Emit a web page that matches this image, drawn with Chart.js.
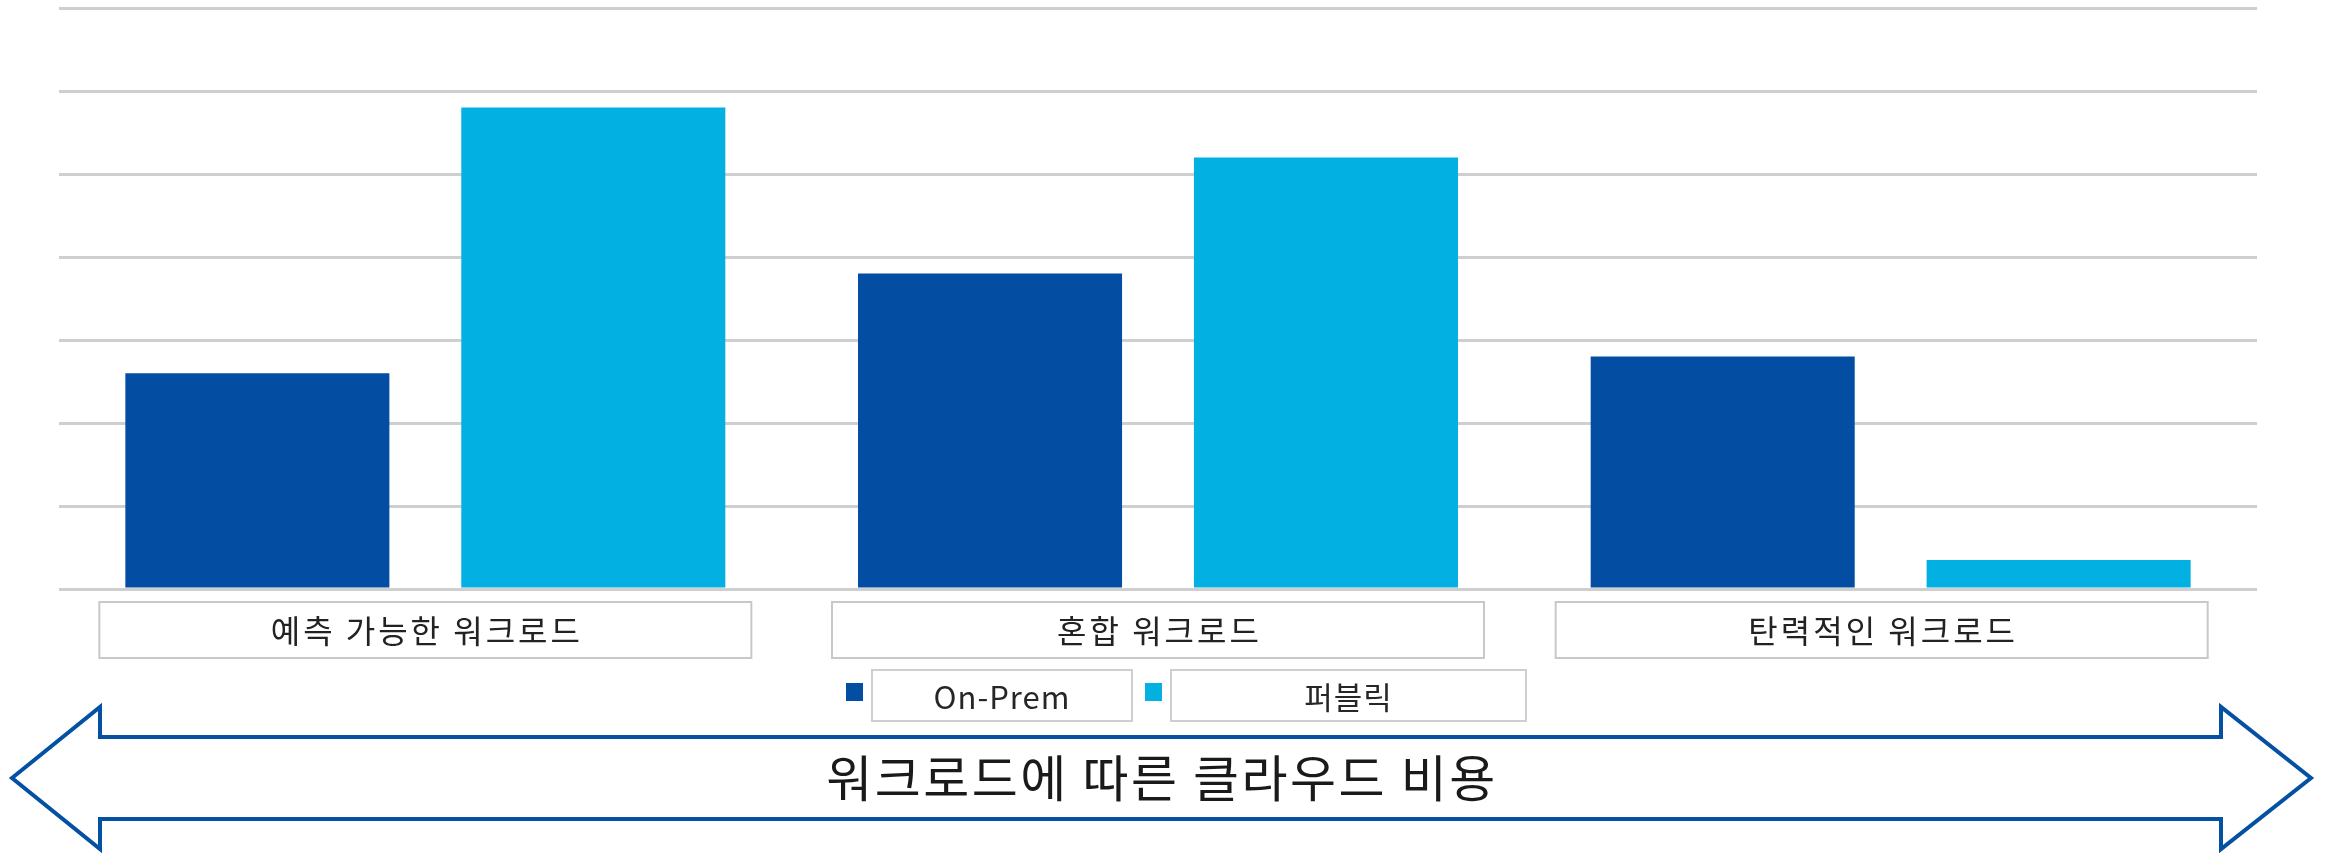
<!DOCTYPE html>
<html>
<head>
<meta charset="utf-8">
<script src="https://cdn.jsdelivr.net/npm/chart.js@4.4.1/dist/chart.umd.min.js"></script>
<style>
  body { margin: 0; background: #fff; }
  .chartWrap { width: 2328px; height: 855px; position: relative; }
</style>
</head>
<body>
<div class="chartWrap"><canvas id="workloadCost"></canvas></div>
<script>
// values (gridlines are unlabeled, 0..7)
const categories = ['예측 가능한 워크로드', '혼합 워크로드', '탄력적인 워크로드'];
const seriesNames = ['On-Prem', '퍼블릭'];
const onPremValues = [2.6, 3.8, 2.8];
const publicValues = [5.8, 5.2, 0.35];
const yMax = 7;
const arrowTitle = '워크로드에 따른 클라우드 비용';

const darkBlue = '#034ea2';
const lightBlue = '#02b1e1';
const fontFamily = '"Noto Sans CJK KR", "Noto Sans", sans-serif';

// category label boxes + legend with boxes + the big double arrow
const extras = {
  id: 'extras',
  afterDraw(chart) {
    const ctx = chart.ctx;
    const xs = chart.scales.x;
    const bottom = chart.chartArea.bottom;
    const boxShift = [0, 0, -9];
    ctx.save();
    ctx.textAlign = 'center';
    ctx.textBaseline = 'middle';

    // category boxes
    ctx.font = '32px ' + fontFamily;
    ctx.letterSpacing = '3px';
    categories.forEach((cat, i) => {
      const cx = xs.getPixelForTick(i) + boxShift[i];
      ctx.strokeStyle = '#c8c8c8';
      ctx.lineWidth = 2;
      ctx.strokeRect(cx - 326, bottom + 13, 652, 56);
      ctx.fillStyle = '#222';
      ctx.fillText(cat, cx + 1.5, bottom + 42);
    });

    // legend
    ctx.font = '31px ' + fontFamily;
    ctx.letterSpacing = '1px';
    const boxW = [260, 355];
    let lx = 846;
    const ly = bottom + 81;
    chart.data.datasets.forEach((ds, i) => {
      ctx.fillStyle = ds.backgroundColor;
      ctx.fillRect(lx, ly + 13, 17, 18);
      const bx = lx + 26;
      ctx.strokeStyle = '#cfcfcf';
      ctx.lineWidth = 2;
      ctx.strokeRect(bx, ly, boxW[i], 51);
      ctx.fillStyle = '#262626';
      ctx.fillText(ds.label, bx + boxW[i] / 2, ly + 27);
      lx = bx + boxW[i] + 13;
    });

    // double arrow
    const midY = 778;
    ctx.beginPath();
    ctx.moveTo(12, midY);
    ctx.lineTo(100, 707);
    ctx.lineTo(100, 737);
    ctx.lineTo(2221, 737);
    ctx.lineTo(2221, 707);
    ctx.lineTo(2311, midY);
    ctx.lineTo(2221, 849);
    ctx.lineTo(2221, 819);
    ctx.lineTo(100, 819);
    ctx.lineTo(100, 849);
    ctx.closePath();
    ctx.strokeStyle = '#0450a2';
    ctx.lineWidth = 4;
    ctx.lineJoin = 'miter';
    ctx.stroke();

    ctx.font = '50px ' + fontFamily;
    ctx.letterSpacing = '2.5px';
    ctx.fillStyle = '#1a1a1a';
    ctx.fillText(arrowTitle, 1162, midY);
    ctx.restore();
  }
};

new Chart(document.getElementById('workloadCost'), {
  type: 'bar',
  data: {
    labels: categories,
    datasets: [
      { label: seriesNames[0], data: onPremValues, backgroundColor: darkBlue },
      { label: seriesNames[1], data: publicValues, backgroundColor: lightBlue }
    ]
  },
  options: {
    responsive: true,
    maintainAspectRatio: false,
    animation: false,
    categoryPercentage: 0.917,
    barPercentage: 0.786,
    layout: { padding: { left: 59, right: 71, top: 8, bottom: 266 } },
    plugins: {
      legend: { display: false },
      tooltip: { enabled: false }
    },
    scales: {
      x: { display: false },
      y: {
        min: 0,
        max: yMax,
        ticks: { display: false, stepSize: 1 },
        border: { display: false },
        grid: { color: '#cfcfcf', lineWidth: 3, drawTicks: false }
      }
    }
  },
  plugins: [extras]
});
</script>
</body>
</html>
